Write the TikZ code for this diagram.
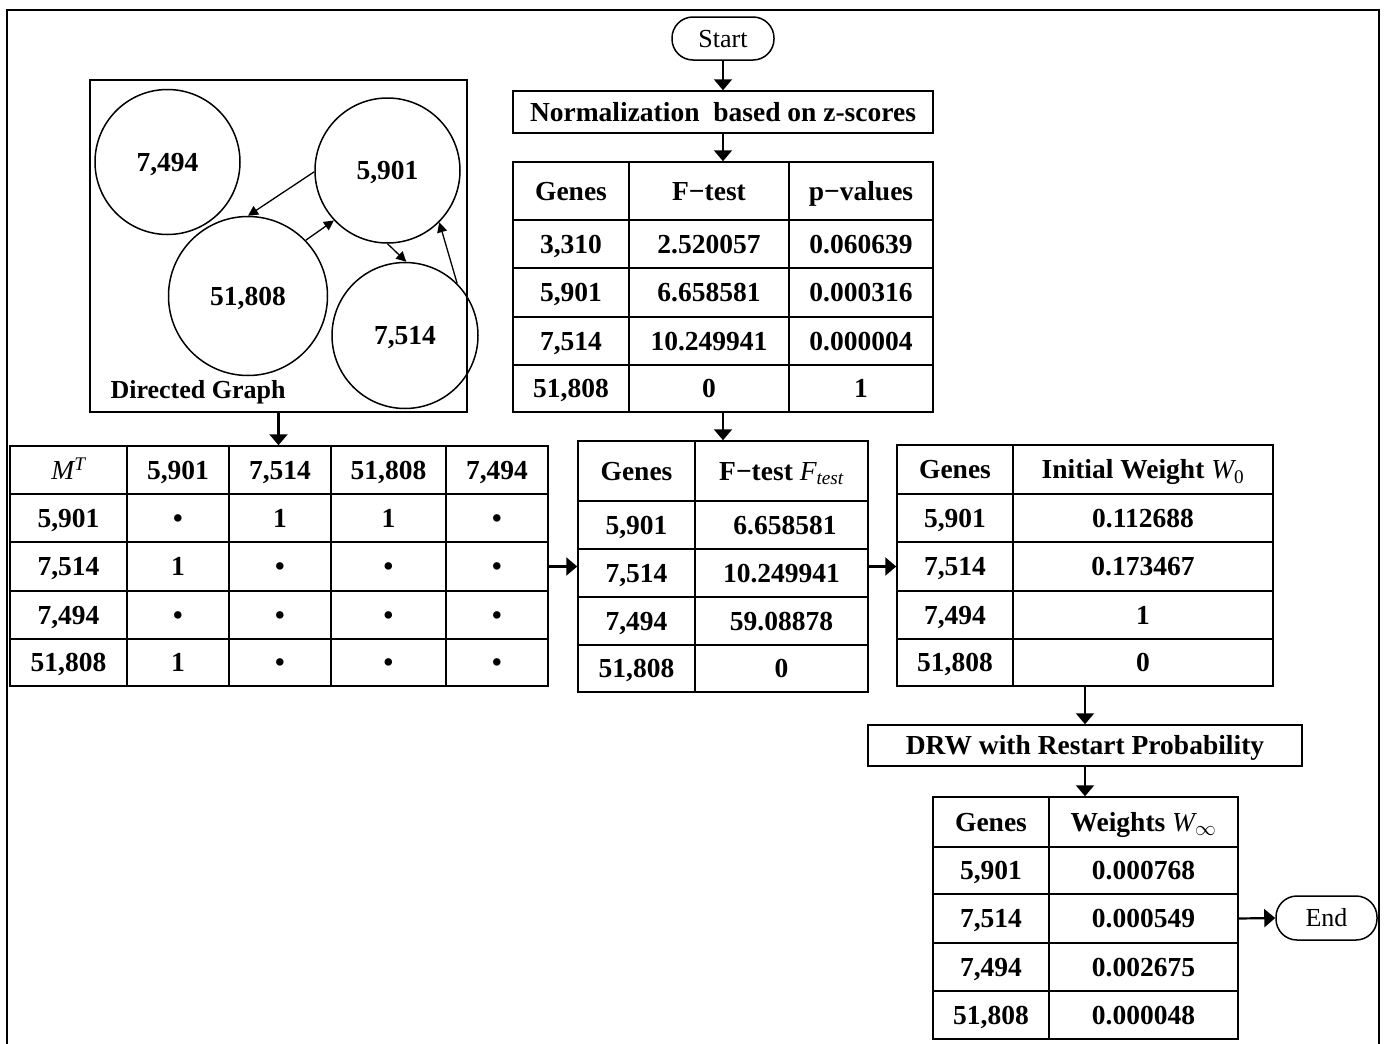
\documentclass[tikz,border=0pt]{standalone}
\usepackage{fontspec}
\setmainfont{Liberation Serif}
\usetikzlibrary{arrows.meta,shapes.geometric}
\newcommand\tcell[6]{%
  \node[cell, minimum width={(#4-#2)*1pt}, minimum height={(#5-#3)*1pt}] (#1) at ({(#2+#4)/2},{(#3+#5)/2}) {#6};}
\newcommand\tabrow[5]{%
  \foreach \xa/\xb/\txt [count=\c from 0] in {#5} {\tcell{#1-#2-\c}{\xa}{#3}{\xb}{#4}{\txt}}}
\newcommand\vit[1]{{\mdseries\itshape #1}}
\tikzset{
  cell/.style={draw, line width=1.5pt, inner sep=0pt, text height=18.6pt, text depth=0pt, font=\fontsize{27.5}{30}\selectfont\bfseries},
  procbox/.style={draw, line width=1.5pt, inner sep=0pt, text height=18.6pt, text depth=0pt, font=\fontsize{27.5}{30}\selectfont\bfseries},
  term/.style={draw, line width=1.5pt, rounded corners=21pt, inner sep=0pt, text height=17.5pt, text depth=0pt, font=\fontsize{26}{30}\selectfont},
  gnode/.style={draw, circle, line width=1.5pt, inner sep=0pt, text height=18.6pt, text depth=0pt, font=\fontsize{27.5}{30}\selectfont\bfseries},
  arr/.style={line width=2.2pt, -{Triangle[length=11pt,width=18pt]}},
  garr/.style={line width=1.3pt, -{Triangle[length=10pt,width=10pt]}},
}
\begin{document}
\begin{tikzpicture}[x=1pt,y=-1pt]
\useasboundingbox (0,0) rectangle (1385,1044);
\fill[white] (0,0) rectangle (1385,1044);
% outer frame
\draw[line width=2pt] (7,1060) -- (7,10) -- (1379,10) -- (1379,1060);

% start / end
\node[term, minimum width=102pt, minimum height=43pt] (start) at (723,38.5) {Start};
\node[term, minimum width=101pt, minimum height=44pt] (end) at (1326.5,918) {End};

% normalization box
\node[procbox, minimum width=420pt, minimum height=42pt] (norm) at (723,112) {Normalization\ \ based on z-scores};

% table 1
\tabrow{t1}{0}{162}{220}{513/629/Genes, 629/789/F−test, 789/933/p−values}
\tabrow{t1}{1}{220}{268}{513/629/{3,310}, 629/789/2.520057, 789/933/0.060639}
\tabrow{t1}{2}{268}{317}{513/629/{5,901}, 629/789/6.658581, 789/933/0.000316}
\tabrow{t1}{3}{317}{365}{513/629/{7,514}, 629/789/10.249941, 789/933/0.000004}
\tabrow{t1}{4}{365}{412}{513/629/{51,808}, 629/789/0, 789/933/1}

% graph box
\node[draw, line width=1.5pt, minimum width=377pt, minimum height=332pt, inner sep=0pt] (gbox) at (278.5,246) {};
\node[gnode, minimum size=145pt] (g7494) at (167.5,162) {7,494};
\node[gnode, minimum size=145pt] (g5901) at (387.5,170.5) {5,901};
\node[gnode, minimum size=159pt] (g51808) at (248,296) {51,808};
\node[gnode, minimum size=146pt] (g7514) at (405,335.5) {7,514};
\node[font=\fontsize{26}{28}\selectfont\bfseries, inner sep=0pt, text height=17.5pt, text depth=0pt] (glabel) at (198,390) {Directed Graph};
\draw[garr] (g5901.181) -- (g51808.90);
\draw[garr] (g51808.44) -- (g5901.223);
\draw[garr] (g5901.270) -- (g7514.89);
\draw[garr] (g7514.45) -- (g5901.315);

% table M^T
\tabrow{t2}{0}{446}{494}{10/127/{\vit{M\textsuperscript{T}}}, 127/229/{5,901}, 229/331/{7,514}, 331/446/{51,808}, 446/548/{7,494}}
\tabrow{t2}{1}{494}{542}{10/127/{5,901}, 127/229/•, 229/331/1, 331/446/1, 446/548/•}
\tabrow{t2}{2}{542}{591}{10/127/{7,514}, 127/229/1, 229/331/•, 331/446/•, 446/548/•}
\tabrow{t2}{3}{591}{639}{10/127/{7,494}, 127/229/•, 229/331/•, 331/446/•, 446/548/•}
\tabrow{t2}{4}{639}{686}{10/127/{51,808}, 127/229/1, 229/331/•, 331/446/•, 446/548/•}

% table F-test
\tabrow{t3}{0}{441}{501}{578/695/Genes, 695/868/{F−test \vit{F\textsubscript{test}}}}
\tabrow{t3}{1}{501}{549}{578/695/{5,901}, 695/868/{\ 6.658581}}
\tabrow{t3}{2}{549}{597}{578/695/{7,514}, 695/868/10.249941}
\tabrow{t3}{3}{597}{645}{578/695/{7,494}, 695/868/59.08878}
\tabrow{t3}{4}{645}{692}{578/695/{51,808}, 695/868/0}

% table W0
\tabrow{t4}{0}{445}{494}{897/1013/Genes, 1013/1273/{Initial Weight \vit{W}{\mdseries\textsubscript{0}}}}
\tabrow{t4}{1}{494}{542}{897/1013/{5,901}, 1013/1273/0.112688}
\tabrow{t4}{2}{542}{591}{897/1013/{7,514}, 1013/1273/0.173467}
\tabrow{t4}{3}{591}{639}{897/1013/{7,494}, 1013/1273/1}
\tabrow{t4}{4}{639}{686}{897/1013/{51,808}, 1013/1273/0}

% DRW box
\node[procbox, minimum width=434pt, minimum height=41pt] (drw) at (1085,745.5) {DRW with Restart Probability};

% table W inf
\tabrow{t5}{0}{797}{847}{933/1049/Genes, 1049/1238/{Weights \vit{W}\textsubscript{$\infty$}}}
\tabrow{t5}{1}{847}{894}{933/1049/{5,901}, 1049/1238/0.000768}
\tabrow{t5}{2}{894}{943}{933/1049/{7,514}, 1049/1238/0.000549}
\tabrow{t5}{3}{943}{991}{933/1049/{7,494}, 1049/1238/0.002675}
\tabrow{t5}{4}{991}{1039}{933/1049/{51,808}, 1049/1238/0.000048}

% connectors
\draw[arr] (start.south) -- (norm.north);
\coordinate (t1top) at (norm.south |- t1-0-1.north);
\draw[arr] (norm.south) -- (t1top);
\coordinate (t1bot) at (norm.south |- t1-4-1.south);
\coordinate (t3top) at (norm.south |- t3-0-1.north);
\draw[arr] (t1bot) -- (t3top);
\coordinate (t2top) at (gbox.south |- t2-0-2.north);
\draw[arr] (gbox.south) -- (t2top);
\coordinate (t3left) at (t2-2-4.east -| t3-2-0.west);
\draw[arr] (t2-2-4.east) -- (t3left);
\coordinate (t3right) at (t4-2-0.west -| t3-2-1.east);
\draw[arr] (t3right) -- (t4-2-0.west);
\coordinate (t4bot) at (drw.north |- t4-4-1.south);
\draw[arr] (t4bot) -- (drw.north);
\coordinate (t5top) at (drw.south |- t5-0-1.north);
\draw[arr] (drw.south) -- (t5top);
\draw[arr] (t5-2-1.east) -- (end.west);
\end{tikzpicture}
\end{document}
